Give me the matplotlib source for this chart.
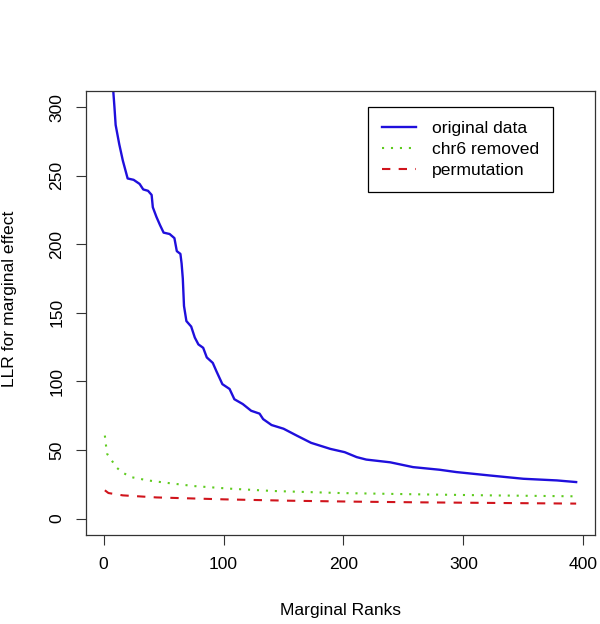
import matplotlib
matplotlib.use("Agg")
import matplotlib.pyplot as plt

# ---- data ----
blue_rank = [1, 2, 3, 4, 5, 6, 7, 8, 9, 10, 13, 16, 20, 25, 30, 33, 37, 40, 41, 44,
             47, 50, 55, 59, 61, 64, 65, 66, 67, 69, 73, 76, 79, 83, 86, 91, 94, 99,
             105, 109, 116, 123, 130, 133, 140, 150, 161, 173, 189, 201, 211, 219,
             239, 258, 280, 294, 322, 350, 378, 394]
blue_llr = [560, 480, 420, 385, 360, 340, 326, 312, 300, 287, 273, 261, 248, 247,
            244, 240, 239, 236, 227, 220, 214, 208.5, 207.5, 204.5, 195, 193, 186,
            175, 155, 144, 140, 132, 127, 124.5, 117.5, 113.5, 107.5, 98, 94.5, 87,
            83.5, 78.6, 76.5, 72.5, 68.2, 65.5, 60.5, 55.2, 50.8, 48.4, 44.8, 43, 41,
            37.5, 35.6, 33.9, 31.4, 29, 27.8, 26.6]

green_rank = [1, 2, 3, 7, 11, 16, 23, 37, 52, 75, 105, 141, 197, 266, 322, 394]
green_llr = [60.5, 53, 47, 42, 37, 33.4, 30.2, 27.8, 26.1, 23.7, 21.8, 20.1, 18.6,
             17.6, 16.9, 16.2]

red_rank = [1, 4, 16, 44, 100, 155, 211, 266, 322, 394]
red_llr = [20.6, 18.6, 16.9, 15.4, 14, 13, 12.3, 11.8, 11.4, 10.9]

series_labels = ["original data", "chr6 removed", "permutation"]
x_ticks = [0, 100, 200, 300, 400]
y_ticks = [0, 50, 100, 150, 200, 250, 300]
x_label = "Marginal Ranks"
y_label = "LLR for marginal effect"

# ---- style ----
plt.rcParams['font.family'] = ['Liberation Sans', 'DejaVu Sans']
fs = 12.6

fig = plt.figure(figsize=(6.0, 6.24), dpi=100)
W, H = 600, 624
L, R, T, B = 86, 595, 90.7, 535
ax = fig.add_axes([L / W, 1 - B / H, (R - L) / W, (B - T) / H])

ax.plot(blue_rank, blue_llr, color='#1f0fdc', lw=1.7, solid_joinstyle='round',
        label=series_labels[0])
ax.plot(green_rank, green_llr, color='#5ecb1e', lw=1.5, dashes=(1, 3.3),
        dash_capstyle='butt', label=series_labels[1])
ax.plot(red_rank, red_llr, color='#d0141c', lw=1.5, dashes=(4, 4),
        dash_capstyle='butt', label=series_labels[2])

ax.set_xlim(-14.72, 409.72)
ax.set_ylim(-12, 312)
ax.set_xticks(x_ticks)
ax.set_yticks(y_ticks)
ax.set_xticklabels([str(v) for v in x_ticks], fontsize=fs)
ax.set_yticklabels([str(v) for v in y_ticks], fontsize=fs, rotation=90, va='center')
ax.tick_params(axis='both', direction='out', length=7.2, width=0.8, color='#333333')
ax.tick_params(axis='x', pad=8.5)
ax.tick_params(axis='y', pad=8.5)
for s in ax.spines.values():
    s.set_linewidth(0.9)
    s.set_color('#333333')

ax.set_xlabel(x_label, fontsize=fs)
ax.xaxis.set_label_coords(0.5, (B - 611) / (B - T))
ax.xaxis.label.set_va('center')
ax.set_ylabel(y_label, fontsize=fs)
ax.yaxis.set_label_coords((9.5 - L) / (R - L), (B - 299) / (B - T))
ax.yaxis.label.set_va('center')

leg = ax.legend(loc='upper left', bbox_to_anchor=(367.5 / W, 1 - 106.7 / H),
                bbox_transform=fig.transFigure, fontsize=fs, frameon=True,
                fancybox=False, shadow=False, borderaxespad=0, handlelength=1.98,
                handletextpad=0.88, labelspacing=0.33, borderpad=0.8)
frame = leg.get_frame()
frame.set_edgecolor('black')
frame.set_linewidth(0.9)
frame.set_alpha(1)

fig.savefig("out.png", dpi=100)
